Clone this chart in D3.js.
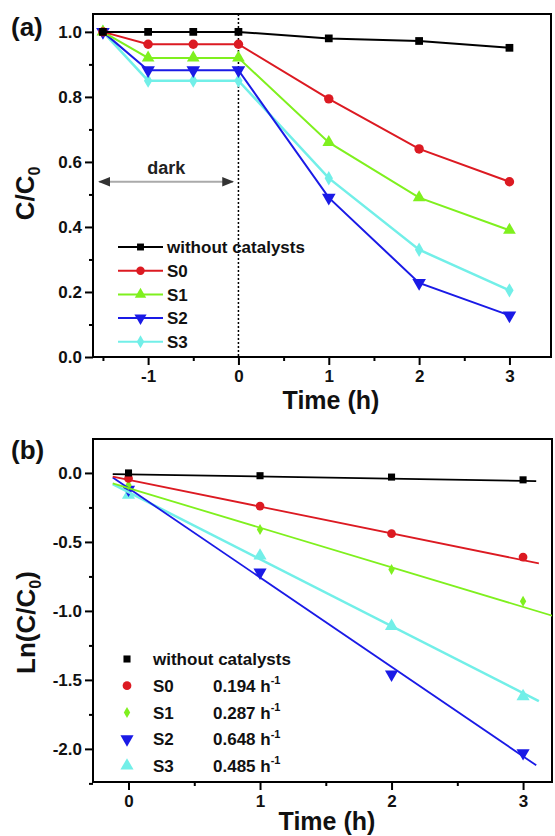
<!DOCTYPE html>
<html>
<head>
<meta charset="utf-8">
<script src="https://cdn.jsdelivr.net/npm/d3@7"></script>
<style>
  body { margin: 0; background: #fff; }
  svg { font-family: "Liberation Sans", Arial, sans-serif; font-weight: bold; }
</style>
</head>
<body>
<div id="chart"></div>
<script>
// chart data
const seriesNames = ["without catalysts", "S0", "S1", "S2", "S3"];
const seriesColors = ["#000000", "#dc1a22", "#7ff01e", "#1a1ae6", "#72efe8"];

// panel (a): C/C0 vs time
const timeA = [-1.5, -1, -0.5, 0, 1, 2, 3];
const ratioNone = [1.0, 1.0, 1.0, 1.0, 0.98, 0.972, 0.951];
const ratioS0 = [1.0, 0.962, 0.962, 0.962, 0.794, 0.640, 0.539];
const ratioS1 = [1.0, 0.920, 0.920, 0.920, 0.660, 0.490, 0.390];
const ratioS2 = [1.0, 0.882, 0.882, 0.882, 0.490, 0.228, 0.128];
const ratioS3 = [1.0, 0.850, 0.850, 0.850, 0.550, 0.330, 0.205];
const ticksA_x = [-1, 0, 1, 2, 3];
const ticksA_y = [0.0, 0.2, 0.4, 0.6, 0.8, 1.0];

// panel (b): Ln(C/C0) vs time with linear fits
const timeB = [0, 1, 2, 3];
const lnNone = [0.0, -0.02, -0.03, -0.05];
const lnS0 = [-0.04, -0.24, -0.44, -0.61];
const lnS1 = [-0.09, -0.41, -0.70, -0.93];
const lnS2 = [-0.12, -0.72, -1.46, -2.03];
const lnS3 = [-0.16, -0.60, -1.11, -1.62];
const rateK = [0.016, 0.194, 0.287, 0.648, 0.485];
const fitIntercept = [-0.01, -0.05, -0.11, -0.11, -0.14];
const fitStart = [-0.12, -0.12, -0.12, -0.12, -0.12];
const fitEnd = [3.1, 3.12, 3.25, 3.1, 3.12];
const rateLabels = ["", "0.194", "0.287", "0.648", "0.485"];
const ticksB_x = [0, 1, 2, 3];
const ticksB_y = [-2.0, -1.5, -1.0, -0.5, 0.0];

const WIDTH = 555;
const HEIGHT = 836;
const PANEL_A = {left: 93, right: 551, top: 14, bottom: 357};
const PANEL_B = {left: 93, right: 552, top: 439, bottom: 782};

const svg = d3.select("#chart")
  .append("svg")
    .attr("width", WIDTH)
    .attr("height", HEIGHT);

// marker shapes: panel (a) and panel (b) differ a little for S1/S3
const symbolsA = [d3.symbolSquare, d3.symbolCircle, d3.symbolTriangle, d3.symbolTriangle, d3.symbolDiamond];
const symbolsB = [d3.symbolSquare, d3.symbolCircle, d3.symbolDiamond, d3.symbolTriangle, d3.symbolTriangle];
const sizesA = [60, 70, 70, 80, 60];
const sizesB = [50, 60, 35, 75, 75];
const symbolRot = [0, 0, 0, 180, 0];

function marker(g, types, sizes, i, x, y, scale) {
  const s = scale || 1;
  g.append("path")
    .attr("d", d3.symbol().type(types[i]).size(sizes[i] * s)())
    .attr("transform", `translate(${x},${y}) rotate(${symbolRot[i]})`)
    .attr("fill", seriesColors[i]);
}

// plain hyphen for negatives, like the original
const fmtInt = (d) => d3.format("d")(d).replace("\u2212", "-");
const fmtDec = (d) => d3.format(".1f")(d).replace("\u2212", "-");

// draws axes, ticks and frame for a panel
function drawFrame(p, x, y, xTicks, xMinor, yTicks, yMinor) {
  const g = svg.append("g");
  g.append("g")
    .attr("transform", `translate(0,${p.bottom})`)
    .call(d3.axisBottom(x).tickValues(xTicks).tickSize(8).tickPadding(5)
      .tickSizeOuter(0).tickFormat(fmtInt));
  g.append("g")
    .attr("transform", `translate(0,${p.bottom})`)
    .call(d3.axisBottom(x).tickValues(xMinor).tickSize(4).tickFormat(""));
  g.append("g")
    .attr("transform", `translate(${p.left},0)`)
    .call(d3.axisLeft(y).tickValues(yTicks).tickSize(8).tickPadding(3)
      .tickSizeOuter(0).tickFormat(fmtDec));
  g.append("g")
    .attr("transform", `translate(${p.left},0)`)
    .call(d3.axisLeft(y).tickValues(yMinor).tickSize(4).tickFormat(""));
  g.selectAll(".domain").remove();
  g.selectAll(".tick line").attr("stroke", "#000").attr("stroke-width", 2);
  g.selectAll(".tick text")
    .attr("font-size", 17)
    .attr("font-weight", "bold")
    .attr("font-family", "Liberation Sans, Arial, sans-serif")
    .attr("fill", "#111");
  svg.append("rect")
    .attr("x", p.left)
    .attr("y", p.top)
    .attr("width", p.right - p.left)
    .attr("height", p.bottom - p.top)
    .attr("fill", "none")
    .attr("stroke", "#000")
    .attr("stroke-width", 2);
}

// ---------- panel (a) ----------
const xA = d3.scaleLinear().domain([-1.61, 3.46]).range([PANEL_A.left, PANEL_A.right]);
const yA = d3.scaleLinear().domain([0, 1.055]).range([PANEL_A.bottom, PANEL_A.top]);

drawFrame(PANEL_A, xA, yA, ticksA_x, [-1.5, -0.5, 0.5, 1.5, 2.5], ticksA_y,
  [0.1, 0.3, 0.5, 0.7, 0.9]);

// dotted line at t = 0 (light on)
svg.append("line")
  .attr("x1", xA(0)).attr("x2", xA(0))
  .attr("y1", PANEL_A.top).attr("y2", PANEL_A.bottom)
  .attr("stroke", "#000")
  .attr("stroke-width", 1.5)
  .attr("stroke-dasharray", "2,2");

// "dark" annotation with double arrow
const defs = svg.append("defs");
defs.append("marker")
  .attr("id", "arrow")
  .attr("viewBox", "0 0 10 10")
  .attr("refX", 9).attr("refY", 5)
  .attr("markerWidth", 6).attr("markerHeight", 6)
  .attr("orient", "auto-start-reverse")
  .append("path")
    .attr("d", "M0,1 L10,5 L0,9 Z")
    .attr("fill", "#333");
svg.append("line")
  .attr("x1", xA(-1.54)).attr("x2", xA(-0.06))
  .attr("y1", yA(0.539)).attr("y2", yA(0.539))
  .attr("stroke", "#aaa")
  .attr("stroke-width", 2)
  .attr("marker-start", "url(#arrow)")
  .attr("marker-end", "url(#arrow)");
svg.append("text")
  .attr("x", xA(-0.8))
  .attr("y", yA(0.563))
  .attr("text-anchor", "middle")
  .attr("font-size", 18)
  .attr("fill", "#222")
  .text("dark");

const seriesA = [ratioNone, ratioS0, ratioS1, ratioS2, ratioS3];
const lineA = d3.line().x((d, i) => xA(timeA[i])).y((d) => yA(d));
// draw back to front so black stays on top like the original
[4, 3, 2, 1, 0].forEach((i) => {
  svg.append("path")
    .datum(seriesA[i])
    .attr("d", lineA)
    .attr("fill", "none")
    .attr("stroke", seriesColors[i])
    .attr("stroke-width", i === 4 ? 2.5 : 2);
  const g = svg.append("g");
  seriesA[i].forEach((v, j) => marker(g, symbolsA, sizesA, i, xA(timeA[j]), yA(v)));
});

// legend (a)
seriesNames.forEach((name, i) => {
  const ly = 247 + i * 23.7;
  svg.append("line")
    .attr("x1", 118).attr("x2", 163)
    .attr("y1", ly).attr("y2", ly)
    .attr("stroke", seriesColors[i])
    .attr("stroke-width", 2);
  marker(svg.append("g"), symbolsA, sizesA, i, 140.5, ly, 0.8);
  svg.append("text")
    .attr("x", 167)
    .attr("y", ly)
    .attr("dy", "0.36em")
    .attr("font-size", 17)
    .attr("fill", "#111")
    .text(name);
});

// labels (a)
svg.append("text")
  .attr("x", 11).attr("y", 36)
  .attr("font-size", 26)
  .attr("fill", "#111")
  .text("(a)");
const yLabA = svg.append("text")
  .attr("transform", `translate(34,${(PANEL_A.top + PANEL_A.bottom) / 2 + 8}) rotate(-90)`)
  .attr("text-anchor", "middle")
  .attr("font-size", 26)
  .attr("fill", "#111");
yLabA.append("tspan").text("C/C");
yLabA.append("tspan").attr("font-size", 16).attr("dy", 6).text("0");
svg.append("text")
  .attr("x", 331).attr("y", 409)
  .attr("text-anchor", "middle")
  .attr("font-size", 25)
  .attr("fill", "#111")
  .text("Time (h)");

// ---------- panel (b) ----------
const xB = d3.scaleLinear().domain([-0.27, 3.22]).range([PANEL_B.left, PANEL_B.right]);
const yB = d3.scaleLinear().domain([-2.24, 0.246]).range([PANEL_B.bottom, PANEL_B.top]);

drawFrame(PANEL_B, xB, yB, ticksB_x, [0.5, 1.5, 2.5], ticksB_y,
  [-2.25, -1.75, -1.25, -0.75, -0.25]);

defs.append("clipPath")
  .attr("id", "clipB")
  .append("rect")
    .attr("x", PANEL_B.left).attr("y", PANEL_B.top)
    .attr("width", PANEL_B.right - PANEL_B.left)
    .attr("height", PANEL_B.bottom - PANEL_B.top);

const seriesB = [lnNone, lnS0, lnS1, lnS2, lnS3];
[4, 3, 2, 1, 0].forEach((i) => {
  const g = svg.append("g");
  seriesB[i].forEach((v, j) => marker(g, symbolsB, sizesB, i, xB(timeB[j]), yB(v)));
});
[4, 3, 2, 1, 0].forEach((i) => {
  const ends = [fitStart[i], fitEnd[i]];
  svg.append("path")
    .datum(ends)
    .attr("clip-path", "url(#clipB)")
    .attr("d", d3.line().x((t) => xB(t)).y((t) => yB(fitIntercept[i] - rateK[i] * t)))
    .attr("fill", "none")
    .attr("stroke", seriesColors[i])
    .attr("stroke-width", i === 4 ? 2.5 : 1.8);
});

// legend (b)
seriesNames.forEach((name, i) => {
  const ly = 659 + i * 26.7;
  marker(svg.append("g"), symbolsB, sizesB, i, 127, ly);
  svg.append("text")
    .attr("x", 153)
    .attr("y", ly)
    .attr("dy", "0.36em")
    .attr("font-size", 17)
    .attr("fill", "#111")
    .text(name);
  if (rateLabels[i]) {
    const t = svg.append("text")
      .attr("x", 213)
      .attr("y", ly)
      .attr("dy", "0.36em")
      .attr("font-size", 17)
      .attr("fill", "#111");
    t.append("tspan").text(rateLabels[i] + " h");
    t.append("tspan").attr("font-size", 11).attr("dy", "-0.7em").text("-1");
  }
});

// labels (b)
svg.append("text")
  .attr("x", 11).attr("y", 459)
  .attr("font-size", 26)
  .attr("fill", "#111")
  .text("(b)");
const yLabB = svg.append("text")
  .attr("transform", `translate(35,${(PANEL_B.top + PANEL_B.bottom) / 2 + 12}) rotate(-90)`)
  .attr("text-anchor", "middle")
  .attr("font-size", 26)
  .attr("fill", "#111");
yLabB.append("tspan").text("Ln(C/C");
yLabB.append("tspan").attr("font-size", 16).attr("dy", 6).text("0");
yLabB.append("tspan").attr("dy", -6).text(")");
svg.append("text")
  .attr("x", 327).attr("y", 830)
  .attr("text-anchor", "middle")
  .attr("font-size", 25)
  .attr("fill", "#111")
  .text("Time (h)");
</script>
</body>
</html>
